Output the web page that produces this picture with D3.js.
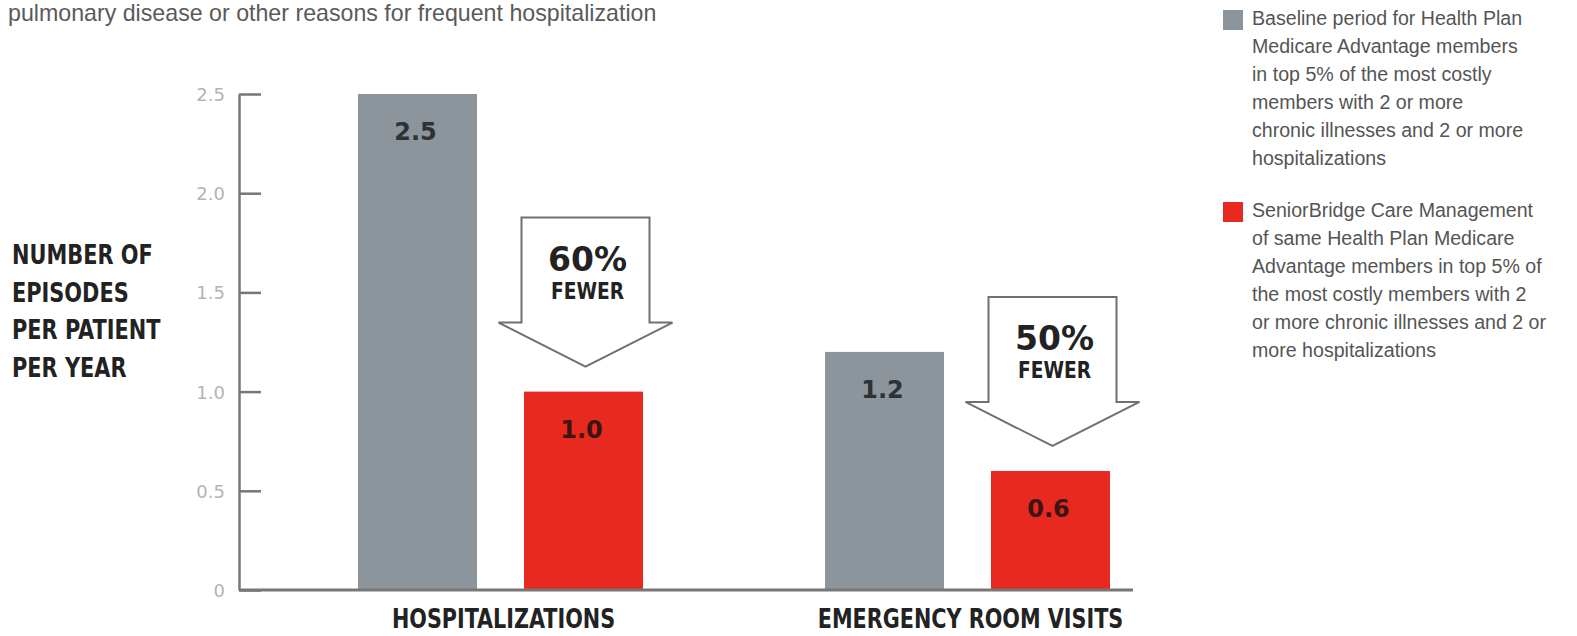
<!DOCTYPE html>
<html>
<head>
<meta charset="utf-8">
<script src="https://cdn.jsdelivr.net/npm/d3@7/dist/d3.min.js"></script>
<style>
  html, body { margin: 0; padding: 0; background: #fff; }
  svg { display: block; }
</style>
</head>
<body>
<svg id="chart" width="1577" height="636"></svg>
<script>
// Episodes per patient per year, before and under care management
const categories = ["HOSPITALIZATIONS", "EMERGENCY ROOM VISITS"];
const seriesKeys = ["baseline", "managed"];
const baselineValues = [2.5, 1.2];
const managedValues = [1.0, 0.6];
const valueLabels = [["2.5", "1.0"], ["1.2", "0.6"]];
const reductionLabels = ["60%", "50%"];
const yTickValues = [0, 0.5, 1.0, 1.5, 2.0, 2.5];
const yTickLabels = ["0", "0.5", "1.0", "1.5", "2.0", "2.5"];
const yTitleLines = ["NUMBER OF", "EPISODES", "PER PATIENT", "PER YEAR"];
const introText = "pulmonary disease or other reasons for frequent hospitalization";
const legendBaseline = [
  "Baseline period for Health Plan",
  "Medicare Advantage members",
  "in top 5% of the most costly",
  "members with 2 or more",
  "chronic illnesses and 2 or more",
  "hospitalizations"
];
const legendManaged = [
  "SeniorBridge Care Management",
  "of same Health Plan Medicare",
  "Advantage members in top 5% of",
  "the most costly members with 2",
  "or more chronic illnesses and 2 or",
  "more hospitalizations"
];

const colors = { baseline: "#8b959b", managed: "#e8291f" };
const condensed = "'DejaVu Sans Condensed', 'DejaVu Sans', sans-serif";
const plain = "'Liberation Sans', Arial, sans-serif";
const digits = "'DejaVu Sans', 'Liberation Sans', sans-serif";

const svg = d3.select("#chart");

const y = d3.scaleLinear().domain([0, 2.5]).range([590, 94]);
const x0 = d3.scaleBand().domain(categories).range([267, 1201]);
const x1 = d3.scaleBand().domain(seriesKeys).range([-142.5, 142.5]).paddingInner(47 / 166);

const rows = categories.map((c, i) => ({
  category: c,
  bars: [
    { key: "baseline", value: baselineValues[i], label: valueLabels[i][0] },
    { key: "managed", value: managedValues[i], label: valueLabels[i][1] }
  ],
  reduction: reductionLabels[i]
}));

// bold heading text squeezed horizontally to a tight gothic width
function squeezed(sel, x, yPos, squeeze) {
  return sel.attr("transform", `translate(${x},${yPos}) scale(${squeeze},1)`);
}

// intro line at the very top
svg.append("text")
  .attr("x", 8).attr("y", 21)
  .attr("font-family", plain).attr("font-size", 23.2)
  .attr("fill", "#5a5a5a")
  .text(introText);

// y axis with inward ticks
const axisX = 239;
const yAxis = d3.axisLeft(y)
  .tickValues(yTickValues)
  .tickFormat((d, i) => yTickLabels[i])
  .tickSizeInner(-22)
  .tickSizeOuter(0)
  .tickPadding(14);

const ag = svg.append("g").attr("transform", `translate(${axisX},0)`).call(yAxis);
ag.select(".domain").attr("stroke", "#777").attr("stroke-width", 2.5);
ag.selectAll(".tick line").attr("stroke", "#777").attr("stroke-width", 2.5);
ag.selectAll(".tick text")
  .attr("font-family", digits).attr("font-size", 18)
  .attr("fill", "#b4b4b4").attr("dy", "0.36em");

// y axis title
svg.append("g").selectAll("text").data(yTitleLines).join("text")
  .each(function(d, i) { squeezed(d3.select(this), 12, 264 + i * 37.5, 0.86); })
  .attr("font-family", condensed).attr("font-weight", "bold").attr("font-size", 27)
  .attr("fill", "#222")
  .text(d => d);

// bars
const groups = svg.append("g").selectAll("g").data(rows).join("g")
  .attr("transform", d => `translate(${x0(d.category) + x0.bandwidth() / 2},0)`);

groups.selectAll("rect").data(d => d.bars).join("rect")
  .attr("x", d => x1(d.key))
  .attr("width", x1.bandwidth())
  .attr("y", d => y(d.value))
  .attr("height", d => y(0) - y(d.value))
  .attr("fill", d => colors[d.key]);

groups.selectAll("text.val").data(d => d.bars).join("text")
  .attr("class", "val")
  .attr("x", d => x1(d.key) + x1.bandwidth() / 2 - 2)
  .attr("y", d => y(d.value) + 46)
  .attr("text-anchor", "middle")
  .attr("font-family", digits).attr("font-weight", "bold").attr("font-size", 24)
  .attr("fill", d => d.key === "managed" ? "#3a1512" : "#2e3236")
  .text(d => d.label);

// baseline rule
svg.append("line")
  .attr("x1", axisX).attr("x2", x0(categories[1]) + x0.bandwidth() / 2 + x1.range()[1] + 23)
  .attr("y1", y(0)).attr("y2", y(0))
  .attr("stroke", "#777").attr("stroke-width", 3);

// down arrows over the managed bars
groups.each(function(d) {
  const g = d3.select(this);
  const m = d.bars[1];
  const cx = x1(m.key) + x1.bandwidth() / 2 + 2;
  const tip = y(m.value) - 25;
  const top = tip - 149;
  const neck = tip - 44;
  const shaft = 64, head = 87;
  const pts = [
    [cx - shaft, top], [cx + shaft, top], [cx + shaft, neck], [cx + head, neck],
    [cx, tip], [cx - head, neck], [cx - shaft, neck]
  ];
  g.append("polygon")
    .attr("points", pts.map(p => p.join(",")).join(" "))
    .attr("fill", "#fff").attr("stroke", "#707070").attr("stroke-width", 2)
    .attr("stroke-linejoin", "miter");
  g.append("text")
    .attr("x", cx + 2).attr("y", top + 53)
    .attr("text-anchor", "middle")
    .attr("font-family", digits).attr("font-weight", "bold").attr("font-size", 33)
    .attr("fill", "#222")
    .text(d.reduction);
  g.append("text")
    .each(function() { squeezed(d3.select(this), cx + 2, top + 81, 0.9); })
    .attr("text-anchor", "middle")
    .attr("font-family", condensed).attr("font-weight", "bold").attr("font-size", 23)
    .attr("fill", "#222")
    .text("FEWER");
});

// category labels
svg.append("g").selectAll("text").data(categories).join("text")
  .each(function(d) { squeezed(d3.select(this), x0(d) + x0.bandwidth() / 2 + 3, 628, 0.87); })
  .attr("text-anchor", "middle")
  .attr("font-family", condensed).attr("font-weight", "bold").attr("font-size", 26.5)
  .attr("fill", "#222")
  .text(d => d);

// legend
const legend = [
  { key: "baseline", lines: legendBaseline, top: 10 },
  { key: "managed", lines: legendManaged, top: 202 }
];
const lg = svg.append("g").selectAll("g").data(legend).join("g");
lg.append("rect")
  .attr("x", 1223).attr("y", d => d.top)
  .attr("width", 20).attr("height", 20)
  .attr("fill", d => colors[d.key]);
lg.selectAll("text").data(d => d.lines.map((t, i) => ({ t, i, top: d.top }))).join("text")
  .attr("x", 1252)
  .attr("y", d => d.top + 15 + d.i * 28)
  .attr("font-family", plain).attr("font-size", 19.6)
  .attr("fill", "#555")
  .text(d => d.t);
</script>
</body>
</html>
